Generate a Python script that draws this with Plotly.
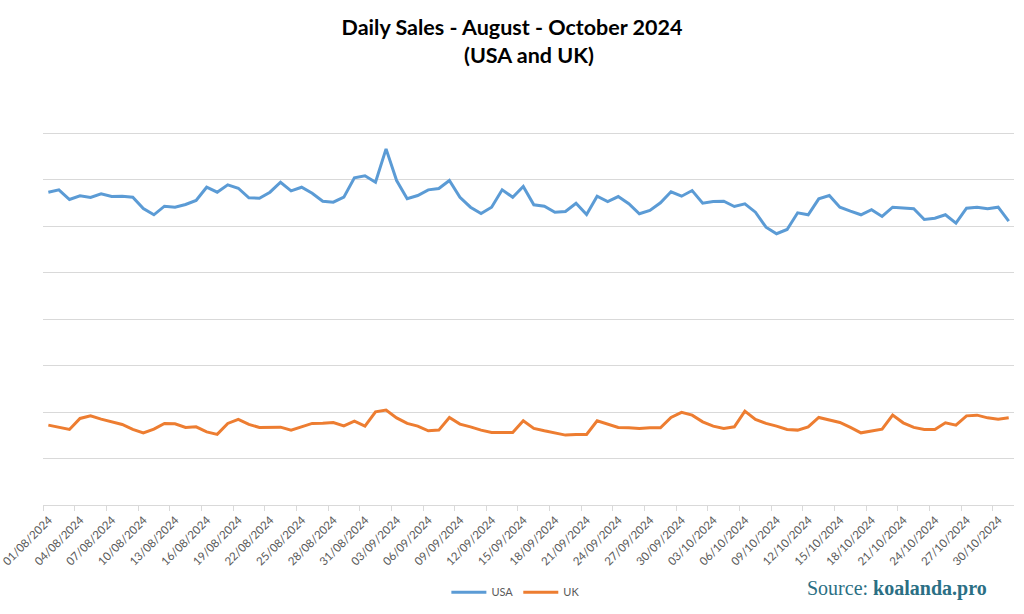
import pandas as pd
import plotly.graph_objects as go

dates = pd.date_range("2024-08-01", "2024-10-31", freq="D")

usa = [6730, 6781, 6573, 6652, 6616, 6695, 6637, 6644, 6622, 6380,
       6244, 6429, 6407, 6465, 6551, 6837, 6730, 6889, 6816, 6609,
       6601, 6730, 6944, 6760, 6837, 6708, 6536, 6515, 6622, 7039,
       7082, 6944, 7662, 6981, 6588, 6659, 6781, 6809, 6981, 6622,
       6407, 6272, 6407, 6781, 6622, 6852, 6459, 6429, 6300, 6315,
       6493, 6251, 6644, 6530, 6637, 6481, 6266, 6337, 6502, 6738,
       6644, 6766, 6493, 6530, 6536, 6423, 6481, 6300, 5978, 5836,
       5928, 6287, 6244, 6588, 6659, 6407, 6322, 6244, 6352, 6208,
       6407, 6395, 6373, 6143, 6171, 6244, 6064, 6386, 6407, 6373,
       6407, 6107]

uk = [1718, 1669, 1626, 1862, 1918, 1847, 1789, 1733, 1626, 1553,
      1632, 1755, 1746, 1669, 1682, 1574, 1519, 1755, 1841, 1733,
      1669, 1669, 1675, 1611, 1682, 1755, 1761, 1776, 1703, 1804,
      1697, 2004, 2041, 1875, 1755, 1697, 1596, 1611, 1884, 1740,
      1682, 1611, 1562, 1562, 1562, 1811, 1648, 1596, 1553, 1504,
      1519, 1519, 1811, 1733, 1669, 1660, 1648, 1660, 1660, 1884,
      1995, 1933, 1789, 1697, 1648, 1682, 2019, 1841, 1755, 1697,
      1626, 1611, 1682, 1884, 1826, 1776, 1669, 1553, 1590, 1632,
      1933, 1768, 1669, 1626, 1626, 1768, 1718, 1918, 1933, 1875,
      1847, 1875]

title_line1 = "Daily Sales - August - October 2024"
title_line2 = "(USA and UK)"

tick_dates = dates[::3]
tick_labels = [d.strftime("%d/%m/%Y") for d in tick_dates]
half_day = pd.Timedelta(hours=12)
label_shift = pd.Timedelta(hours=13)
eps = pd.Timedelta(minutes=10)

fig = go.Figure()
fig.add_trace(go.Scatter(x=dates, y=usa, mode="lines", name="USA",
                         line=dict(color="#5B9BD5", width=3)))
fig.add_trace(go.Scatter(x=dates, y=uk, mode="lines", name="UK",
                         line=dict(color="#ED7D31", width=3)))

fig.update_layout(
    width=1024, height=614,
    paper_bgcolor="white", plot_bgcolor="white",
    margin=dict(l=43, r=10, t=86, b=109, autoexpand=False),
    title=dict(text="<b>" + title_line1 + "</b>",
               x=0.5, xanchor="center", y=1 - 27 / 614, yanchor="middle",
               font=dict(family="Lato, Open Sans, sans-serif", size=21.5, color="#000000")),
    showlegend=True,
    legend=dict(orientation="h", x=0.487, xanchor="center", y=-0.208, yanchor="middle",
                font=dict(family="Lato, sans-serif", size=11, color="#595959"),
                itemwidth=35),
    font=dict(family="Lato, sans-serif"),
)

fig.add_annotation(
    text="<b>" + title_line2 + "</b>",
    xref="paper", yref="paper", x=0.5, y=(505 - 55) / 419, xanchor="center", yanchor="middle",
    showarrow=False,
    font=dict(family="Lato, Open Sans, sans-serif", size=21.5, color="#000000"),
)

fig.update_xaxes(
    type="date",
    range=[dates[0] - half_day - eps, dates[-1] + half_day],
    tickmode="array",
    tickvals=[d - half_day + label_shift for d in tick_dates],
    ticktext=tick_labels,
    tickangle=-45,
    ticklabeloverflow="allow",
    ticklabelstandoff=3,
    tickfont=dict(family="Lato, sans-serif", size=11.5, color="#595959"),
    showgrid=False,
    showline=True, linecolor="#d9d9d9", linewidth=1,
    ticks="",
    minor=dict(tickmode="array", tickvals=[d - half_day for d in tick_dates],
               ticks="outside", ticklen=5, tickcolor="#d9d9d9", showgrid=False),
    automargin=False,
)
fig.update_yaxes(
    range=[0, 9015], tickmode="array",
    tickvals=[1000, 2000, 3000, 4000, 5000, 6000, 7000, 8000, 9000],
    showticklabels=False,
    showgrid=True, gridcolor="#d9d9d9", gridwidth=1,
    zeroline=False, showline=False,
    automargin=False,
)

fig.add_annotation(
    text="Source: <b>koalanda.pro</b>",
    xref="paper", yref="paper", x=(987 - 43) / 969, y=(505 - 588) / 419,
    xanchor="right", yanchor="middle",
    showarrow=False,
    font=dict(family="Liberation Serif, serif", size=20, color="#2b6f84"),
)

fig.write_html("out.html",
               config={"displayModeBar": False},
               post_script="document.body.style.margin='0px';document.body.style.overflow='hidden';")
